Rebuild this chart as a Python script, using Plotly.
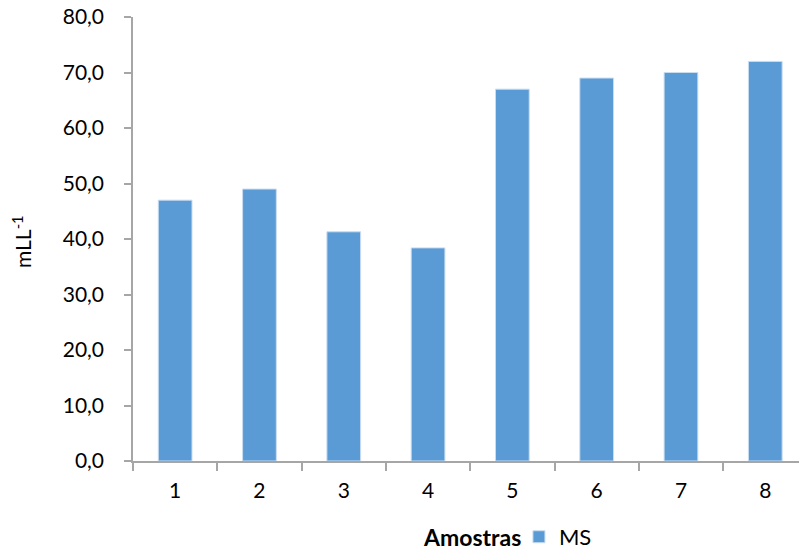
import plotly.graph_objects as go

categories = ["1", "2", "3", "4", "5", "6", "7", "8"]
ms_values = [47.0, 49.0, 41.3, 38.4, 67.0, 69.0, 70.0, 72.0]
y_ticks = [0, 10, 20, 30, 40, 50, 60, 70, 80]

FONT = "Lato"
AX = "#A6A6A6"

fig = go.Figure()
fig.add_trace(go.Bar(
    x=categories, y=ms_values, name="MS",
    marker=dict(color="#5B9BD5", line=dict(color="#C9DDF1", width=1)),
))

fig.update_layout(
    width=799, height=553,
    margin=dict(l=133, r=0, t=17, b=92, autoexpand=False),
    paper_bgcolor="white", plot_bgcolor="white",
    separators=",.",
    bargap=0.6,
    font=dict(family=FONT, size=21, color="black"),
    showlegend=True,
    legend=dict(orientation="h", x=0.5795, xanchor="left", y=-0.171, yanchor="middle",
                font=dict(family=FONT, size=22), itemwidth=30, bgcolor="rgba(0,0,0,0)"),
    xaxis=dict(
        type="category", range=[-0.5, 7.4], showline=True, linecolor=AX, linewidth=1.5,
        ticks="outside", ticklen=8, tickcolor=AX, tickwidth=1.5, tickson="boundaries",
        showgrid=False, ticklabelstandoff=10, automargin=False,
        tickfont=dict(family=FONT, size=21),
    ),
    yaxis=dict(
        range=[0, 80], tickvals=y_ticks, tickformat=".1f", showline=True, linecolor=AX,
        linewidth=1.5, ticks="outside", ticklen=7, tickcolor=AX, tickwidth=1.5,
        showgrid=False, zeroline=False, ticklabelstandoff=16, automargin=False,
        tickfont=dict(family=FONT, size=21),
    ),
)

fig.add_annotation(text="mLL<sup>-1</sup>", xref="paper", yref="paper", x=-0.167, y=0.495,
                   xanchor="center", yanchor="middle", textangle=-90, showarrow=False,
                   font=dict(family=FONT, size=21))

fig.add_annotation(text="<b>Amostras</b>", xref="paper", yref="paper", x=0.586, y=-0.171,
                   xanchor="right", yanchor="middle", showarrow=False,
                   font=dict(family=FONT, size=23))

fig.write_html("out.html", config={"displayModeBar": False},
               post_script="document.body.style.margin='0';document.body.style.padding='0';")
